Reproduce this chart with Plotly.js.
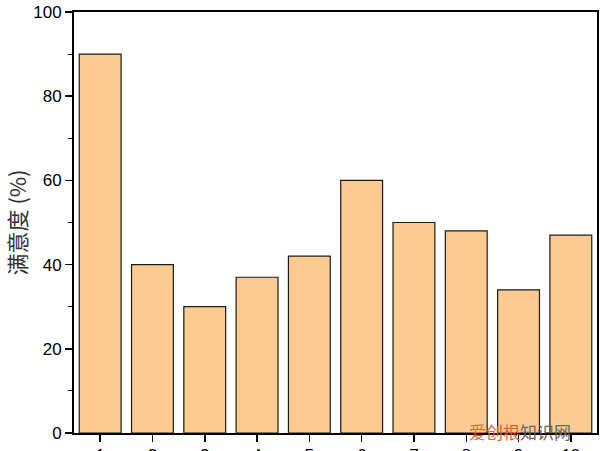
<!DOCTYPE html>
<html><head><meta charset="utf-8">
<script src="https://cdn.plot.ly/plotly-3.0.1.min.js"></script>
<style>body{margin:0;padding:0;background:#fff}</style>
</head><body>
<div id="chart" style="width:600px;height:451px"></div>
<script>
const categories = [1,2,3,4,5,6,7,8,9,10];
const satisfaction = [90,40,30,37,42,60,50,48,34,47];
const yTickVals = [0,20,40,60,80,100];
const yTitle = '满意度 (%)';

const trace = {
  type: 'bar', x: categories, y: satisfaction, width: 0.8,
  marker: {color: '#FDCB92', line: {color: '#1a1a1a', width: 1.2}},
  hoverinfo: 'skip'
};
const fontMain = 'Liberation Sans, Arial, sans-serif';
const layout = {
  width: 600, height: 451,
  margin: {l: 74, r: 3, t: 12, b: 18, pad: 0},
  paper_bgcolor: '#fff', plot_bgcolor: '#fff',
  showlegend: false,
  bargap: 0.2,
  xaxis: {
    range: [0.5, 10.5], tickvals: categories, ticktext: categories.map(String),
    ticks: 'outside', ticklen: 7, tickwidth: 1.5, tickcolor: '#000',
    ticklabelstandoff: -1,
    showline: true, linecolor: '#000', linewidth: 2, mirror: true,
    showgrid: false, zeroline: false,
    tickfont: {family: fontMain, size: 17, color: '#000'}
  },
  yaxis: {
    range: [0, 100], tickvals: yTickVals,
    ticks: 'outside', ticklen: 7, tickwidth: 1.5, tickcolor: '#000',
    minor: {dtick: 10, ticks: 'outside', ticklen: 4, tickwidth: 1, tickcolor: '#000', showgrid: false},
    showline: true, linecolor: '#000', linewidth: 2, mirror: true,
    showgrid: false, zeroline: false,
    tickfont: {family: fontMain, size: 17, color: '#000'},
    title: {text: yTitle, standoff: 9, font: {family: 'Noto Sans CJK SC, Liberation Sans, sans-serif', size: 22, color: '#333'}}
  },
  annotations: [
    {xref: 'paper', yref: 'paper', x: 0.751, y: 0.003, xanchor: 'left', yanchor: 'middle', showarrow: false,
     text: '<span style="color:#E0622C">爱创根</span><span style="color:#666">知识网</span>',
     font: {family: 'Noto Sans CJK SC, sans-serif', size: 17}}
  ]
};
Plotly.newPlot('chart', [trace], layout, {displayModeBar: false, staticPlot: true});
</script>
</body></html>
